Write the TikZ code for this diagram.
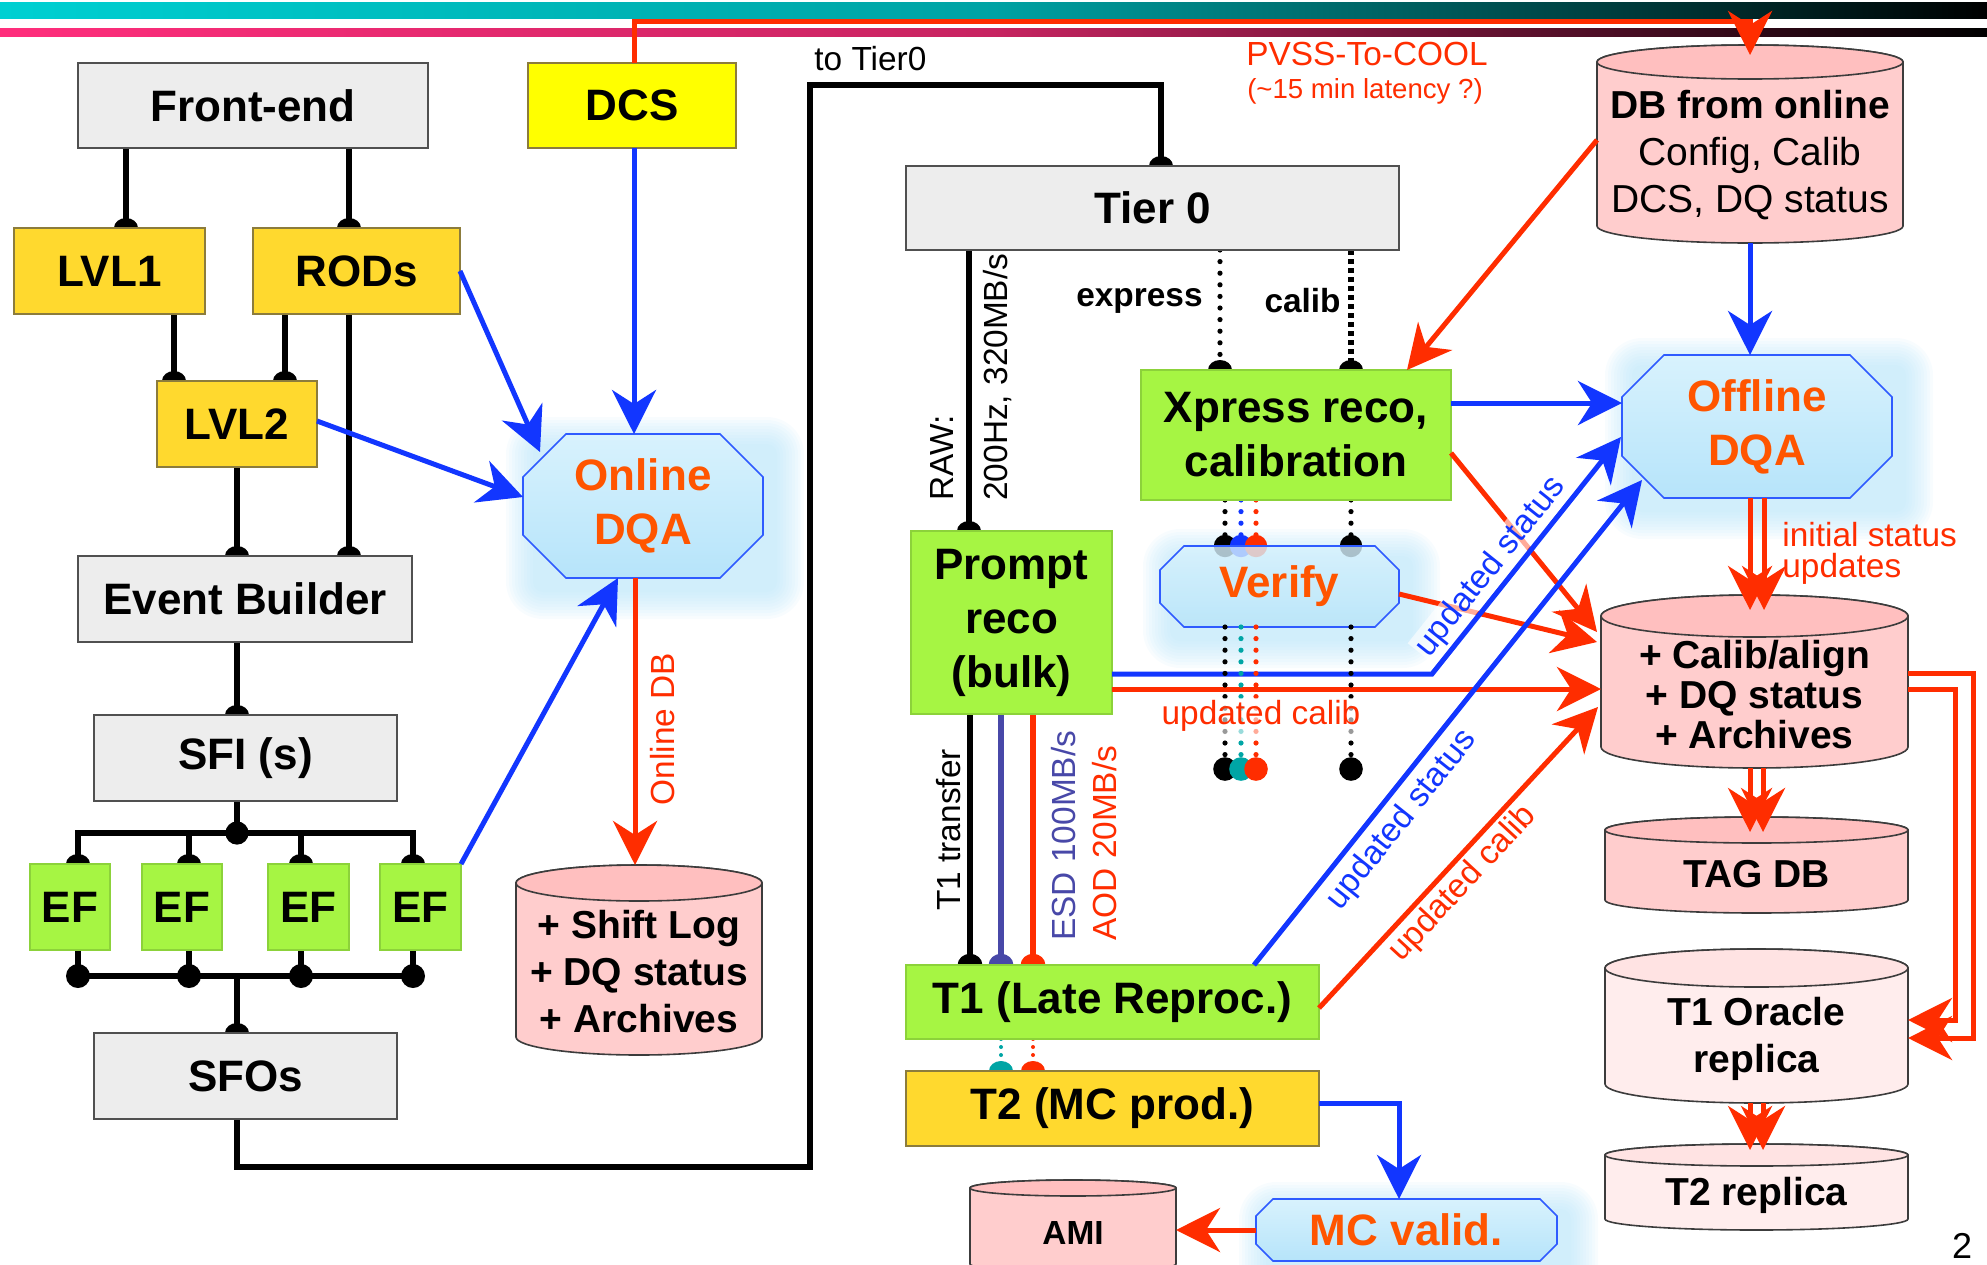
\documentclass[tikz,border=0pt]{standalone}
\usepackage{fontspec}
\setmainfont{Liberation Sans}
\usetikzlibrary{arrows.meta,calc}

\definecolor{greyfill}{HTML}{EDEDED}
\definecolor{greyline}{HTML}{505050}
\definecolor{yelfill}{HTML}{FFD92E}
\definecolor{yelline}{HTML}{8C7C3C}
\definecolor{dcsfill}{HTML}{FFFF00}
\definecolor{grnfill}{HTML}{A6F543}
\definecolor{grnline}{HTML}{8CD23A}
\definecolor{octtop}{HTML}{D8F2FD}
\definecolor{octbot}{HTML}{B6E4FA}
\definecolor{octline}{HTML}{2F5BFF}
\definecolor{glowcol}{HTML}{B4E3F9}
\definecolor{orng}{HTML}{FF5500}
\definecolor{rd}{HTML}{FF2D00}
\definecolor{bl}{HTML}{1236FF}
\definecolor{slate}{HTML}{4848A8}
\definecolor{tl}{HTML}{00A5A5}
\definecolor{cylbody}{HTML}{FFCDCD}
\definecolor{cyltop}{HTML}{FFBFBF}
\definecolor{cyllbody}{HTML}{FFEDED}
\definecolor{cylltop}{HTML}{FFE3E3}
\definecolor{cylline}{HTML}{3C3C3C}
\definecolor{barcyan}{HTML}{00D0D2}
\definecolor{barpink}{HTML}{FF2E7C}

\pgfdeclarelayer{glowl}
\pgfdeclarelayer{linel}
\pgfsetlayers{glowl,linel,main}

\newcommand\bigf{\fontsize{22}{27}\selectfont\bfseries}
\newcommand\cylf{\fontsize{19.5}{23.5}\selectfont\bfseries}
\newcommand\lblf{\fontsize{16.7}{18}\selectfont}
\newcommand\lblbf{\fontsize{16.7}{18}\selectfont\bfseries}

\tikzset{
  boxbase/.style={inner sep=0pt, outer sep=0pt, align=center, line width=0.9pt, font=\bigf},
  greybox/.style={boxbase, draw=greyline, fill=greyfill},
  yelbox/.style={boxbase, draw=yelline, fill=yelfill},
  dcsbox/.style={boxbase, draw=yelline, fill=dcsfill},
  grnbox/.style={boxbase, draw=grnline, fill=grnfill},
  octtxt/.style={inner sep=0pt, outer sep=0pt, align=center, text=orng, font=\bigf},
  cyltxt/.style={inner sep=0pt, align=center, font=\cylf},
  lbl/.style={inner sep=1pt, font=\lblf},
  blk/.style={draw=black, line width=3pt},
  bll/.style={draw=bl, line width=2.5pt},
  rdl/.style={draw=rd, line width=2.5pt},
  arr/.style={-{Stealth[length=22pt,width=22pt,inset=7pt]}},
  dotl/.style={line width=2.6pt, line cap=round, dash pattern=on 0pt off 5.8pt},
  sqdot/.style={line width=3pt, dash pattern=on 2.5pt off 2pt},
}

\newcommand\mybx[7]{\node[#2, minimum width={(#5-#3)*0.5pt}, minimum height={(#6-#4)*0.5pt}] (#1) at ({(#3+#5)/2},{(#4+#6)/2}) {#7};}

\newcommand\myocto[8][]{%
  \begin{pgfonlayer}{glowl}
  \foreach \g in {2,5,8,11,14,17,20,23,26,29}{%
    \pgfmathsetmacro\rr{\g*0.5+4}%
    \fill[glowcol, opacity=0.09, rounded corners=\rr pt] ({#4+12-\g},{#5+12-\g}) rectangle ({#6+12+\g},{#7+12+\g});}
  \end{pgfonlayer}
  \shadedraw[top color=octtop, bottom color=octbot, draw=octline, line width=0.8pt, #1] ({#4+#3},#5) -- ({#6-#3},#5) -- (#6,{#5+#3}) -- (#6,{#7-#3}) -- ({#6-#3},#7) -- ({#4+#3},#7) -- (#4,{#7-#3}) -- (#4,{#5+#3}) -- cycle;
  \node[octtxt, minimum width={(#6-#4)*0.5pt}, minimum height={(#7-#5)*0.5pt}] (#2) at ({(#4+#6)/2},{(#5+#7)/2}) {#8};}

\newcommand\mycyl[9]{%
  \pgfmathsetmacro\cxx{(#2+#4)/2}%
  \pgfmathsetmacro\rxx{(#4-#2)/4}%
  \pgfmathsetmacro\ryy{#6/2}%
  \pgfmathsetmacro\ytt{#3+#6}%
  \pgfmathsetmacro\ybb{#5-#6}%
  \pgfmathsetmacro\ytx{(#3+#6+#5)/2+3}%
  \filldraw[draw=cylline, fill=#7, line width=0.8pt] (#2,\ytt) -- (#2,\ybb) arc[start angle=180, end angle=360, x radius=\rxx pt, y radius=\ryy pt] -- (#4,\ytt) arc[start angle=0, end angle=180, x radius=\rxx pt, y radius=\ryy pt] -- cycle;
  \filldraw[draw=cylline, fill=#8, line width=0.8pt] (\cxx,\ytt) ellipse [x radius=\rxx pt, y radius=\ryy pt];
  \node[inner sep=0pt, outer sep=0pt, minimum width={(#4-#2)*0.5pt}, minimum height={(#5-#3)*0.5pt}] (#1) at (\cxx,{(#3+#5)/2}) {};
  \node[cyltxt] (#1-t) at (\cxx,\ytx) {#9};}

\newcommand\hd[2][black]{\fill[#1] #2 ellipse [x radius=6pt, y radius=5pt];}
\newcommand\vlk[3]{\draw[blk] (#1,0 |- #2.south) -- (#1,0 |- #3.north); \hd{(#1,0 |- #3.north)}}

\begin{document}
\begin{tikzpicture}[x=0.5pt, y=-0.5pt]
\useasboundingbox (0,0) rectangle (1987,1264);

% header bars
\begin{pgfonlayer}{glowl}
\shade[left color=barcyan, right color=black, middle color=barcyan!78!black] (0,2) rectangle (1987,18);
\shade[left color=barpink, right color=black, middle color=barpink!78!black] (0,28) rectangle (1987,36);
\end{pgfonlayer}

% ---------- boxes ----------
\mybx{fe}{greybox}{78}{63}{428}{148}{Front-end}
\mybx{dcs}{dcsbox}{528}{63}{736}{148}{DCS}
\mybx{lvla}{yelbox}{14}{228}{205}{314}{LVL1}
\mybx{rods}{yelbox}{253}{228}{460}{314}{RODs}
\mybx{lvlb}{yelbox}{157}{381}{317}{467}{LVL2}
\mybx{eb}{greybox}{78}{556}{412}{642}{Event Builder}
\mybx{sfi}{greybox}{94}{715}{397}{801}{SFI (s)}
\mybx{efa}{grnbox}{30}{864}{110}{950}{EF}
\mybx{efb}{grnbox}{142}{864}{222}{950}{EF}
\mybx{efc}{grnbox}{268}{864}{349}{950}{EF}
\mybx{efd}{grnbox}{380}{864}{461}{950}{EF}
\mybx{sfo}{greybox}{94}{1033}{397}{1119}{SFOs}
\mybx{tier}{greybox}{906}{166}{1399}{250}{Tier 0}
\mybx{xpr}{grnbox}{1141}{370}{1451}{500}{Xpress reco,\\calibration}
\mybx{prompt}{grnbox}{911}{531}{1112}{714}{Prompt\\reco\\(bulk)}
\mybx{tone}{grnbox}{906}{965}{1319}{1039}{T1 (Late Reproc.)}
\mybx{ttwo}{yelbox}{906}{1071}{1319}{1146}{T2 (MC prod.)}

% ---------- octagons ----------
\myocto{ondqa}{43}{523}{434}{763}{578}{Online\\DQA}
\myocto{offdqa}{42}{1622}{355}{1892}{498}{Offline\\DQA}
\myocto[fill opacity=0.8]{verify}{24}{1160}{546}{1399}{627}{Verify}
\myocto{mcv}{17}{1256}{1199}{1557}{1261}{MC valid.}

% ---------- databases ----------
\mycyl{dbon}{1597}{45}{1903}{243}{17}{cylbody}{cyltop}{DB from online\\\mdseries Config, Calib\\\mdseries DCS, DQ status}
\mycyl{shiftlog}{516}{865}{762}{1055}{18}{cylbody}{cyltop}{+ Shift Log\\+ DQ status\\+ Archives}
\mycyl{calib}{1601}{595}{1908}{768}{21}{cylbody}{cyltop}{+ Calib/align\\[-3.5pt]+ DQ status\\[-3.5pt]+ Archives}
\mycyl{tagdb}{1605}{817}{1908}{913}{13}{cylbody}{cyltop}{TAG DB}
\mycyl{tora}{1605}{949}{1908}{1103}{19}{cyllbody}{cylltop}{T1 Oracle\\replica}
\mycyl{trep}{1605}{1144}{1908}{1230}{11}{cyllbody}{cylltop}{T2 replica}
\mycyl{ami}{970}{1180}{1176}{1272}{8}{cylbody}{cyltop}{\fontsize{16.7}{18}\selectfont AMI}

% ---------- black / dotted links (behind boxes) ----------
\begin{pgfonlayer}{linel}
\vlk{126}{fe}{lvla}
\vlk{349}{fe}{rods}
\vlk{174}{lvla}{lvlb}
\vlk{285}{rods}{lvlb}
\vlk{349}{rods}{eb}
\vlk{237}{lvlb}{eb}
\vlk{237}{eb}{sfi}
\coordinate (bustop) at (237,833);
\coordinate (busbot) at (237,976);
\draw[blk] (237,0 |- sfi.south) -- (bustop);
\fill (bustop) circle (5.8pt);
\draw[blk] (78,0 |- efa.north) |- (bustop) -| (413,0 |- efd.north);
\draw[blk] (78,0 |- efa.south) |- (busbot) -| (413,0 |- efd.south);
\foreach \xx/\nn in {78/efa,189/efb,301/efc,413/efd}{
  \draw[blk] (\xx,0 |- bustop) -- (\xx,0 |- \nn.north);
  \hd{(\xx,0 |- \nn.north)}
  \draw[blk] (\xx,0 |- \nn.south) -- (\xx,0 |- busbot);
  \fill (\xx,0 |- busbot) circle (6pt);
}
\draw[blk] (busbot) -- (237,0 |- sfo.north); \hd{(237,0 |- sfo.north)}
\draw[blk] (237,0 |- sfo.south) -- (237,1167) -- (810,1167) -- (810,85) -- (1161,85) -- (1161,0 |- tier.north);
\hd{(1161,0 |- tier.north)}
\draw[blk] (969,0 |- tier.south) -- (969,0 |- prompt.north); \hd{(969,0 |- prompt.north)}
\draw[dotl] (1220,0 |- tier.south) -- (1220,0 |- xpr.north); \hd{(1220,0 |- xpr.north)}
\draw[sqdot] (1351,0 |- tier.south) -- (1351,0 |- xpr.north); \hd{(1351,0 |- xpr.north)}
% xpress -> verify
\draw[dotl, black] (1225,0 |- xpr.south) -- (1225,0 |- verify.north);
\draw[dotl, bl] (1241,0 |- xpr.south) -- (1241,0 |- verify.north);
\draw[dotl, rd] (1256,0 |- xpr.south) -- (1256,0 |- verify.north);
\draw[dotl, black] (1351,0 |- xpr.south) -- (1351,0 |- verify.north);
\fill[black] (1225,0 |- verify.north) circle (5.6pt);
\fill[bl] (1241,0 |- verify.north) circle (5.6pt);
\fill[rd] (1256,0 |- verify.north) circle (5.6pt);
\fill[black] (1351,0 |- verify.north) circle (5.6pt);
% prompt -> T1
\draw[black, line width=2.8pt] (970,0 |- prompt.south) -- (970,0 |- tone.north);
\draw[slate, line width=2.8pt] (1001,0 |- prompt.south) -- (1001,0 |- tone.north);
\draw[rd, line width=2.8pt] (1033,0 |- prompt.south) -- (1033,0 |- tone.north);
\fill[black] (970,0 |- tone.north) ellipse [x radius=6.2pt, y radius=5.6pt];
\fill[slate] (1001,0 |- tone.north) ellipse [x radius=6.2pt, y radius=5.6pt];
\fill[rd] (1033,0 |- tone.north) ellipse [x radius=6.2pt, y radius=5.6pt];
% T1 -> T2
\draw[dotl, tl, line width=2pt, dash pattern=on 0pt off 4pt] (1001,0 |- tone.south) -- (1001,0 |- ttwo.north); \hd[tl]{(1001,0 |- ttwo.north)}
\draw[dotl, rd, line width=2pt, dash pattern=on 0pt off 4pt] (1033,0 |- tone.south) -- (1033,0 |- ttwo.north); \hd[rd]{(1033,0 |- ttwo.north)}
\end{pgfonlayer}

% ---------- coloured arrows ----------
\draw[rdl, arr] (634,0 |- dcs.north) -- (634,21) -- (1750,21) -- (1750,55);
\draw[bll, arr] (rods.east) -- (540,452);
\draw[bll, arr] (lvlb.east |- 0,421) -- (523,497);
\draw[bll, arr] (efd.north east) -- (618,0 |- ondqa.south);
\draw[bll, arr] (634,0 |- dcs.south) -- (634,0 |- ondqa.north);
\draw[rdl, arr] (635,0 |- ondqa.south) -- (635,0 |- shiftlog.north);

\draw[bll, arr] (1750,0 |- dbon.south) -- (1750,0 |- offdqa.north);
\draw[rdl, arr] (dbon.west |- 0,140) -- (1407,0 |- xpr.north);
\draw[bll, arr] (xpr.east |- 0,403) -- (offdqa.west |- 0,403);
\draw[rdl, arr] (xpr.east |- 0,453) -- (1597,632);
\draw[rdl, arr] (verify.east |- 0,594) -- (1597,642);
\draw[bll, arr] (prompt.east |- 0,674) -- (1432,674) -- (1621,437);
\draw[rdl, arr] (prompt.east |- 0,689) -- (calib.west |- 0,689);
\draw[bll, arr] (1254,0 |- tone.north) -- (1642,480);
\draw[rdl, arr] (tone.east |- 0,1008) -- (1598,707);
\draw[bll, arr] (ttwo.east |- 0,1103) -- (1399,1103) -- (1399,0 |- mcv.north);
\draw[rdl, arr] (mcv.west |- 0,1230) -- (ami.east |- 0,1230);

\foreach \xx in {1750,1764} \draw[rdl, arr] (\xx,0 |- offdqa.south) -- (\xx,610);
\foreach \xx in {1750,1763} \draw[rdl, arr] (\xx,0 |- calib.south) -- (\xx,832);
\foreach \xx in {1750,1763} \draw[rdl, arr] (\xx,0 |- tora.south) -- (\xx,1150);
\draw[rdl, arr] (calib.east |- 0,673) -- (1973,673) -- (1973,1038) -- (tora.east |- 0,1038);
\draw[rdl, arr] (calib.east |- 0,689) -- (1955,689) -- (1955,1020) -- (tora.east |- 0,1020);

% verify -> outputs
\coordinate (vend) at (0,769);
\draw[dotl, black] (1225,0 |- verify.south) -- (1225,0 |- vend);
\draw[dotl, tl] (1241,0 |- verify.south) -- (1241,0 |- vend);
\draw[dotl, rd] (1256,0 |- verify.south) -- (1256,0 |- vend);
\draw[dotl, black] (1351,0 |- verify.south) -- (1351,0 |- vend);
\fill[black] (1225,0 |- vend) circle (5.9pt);
\fill[tl] (1241,0 |- vend) circle (5.9pt);
\fill[rd] (1256,0 |- vend) circle (5.9pt);
\fill[black] (1351,0 |- vend) circle (5.9pt);

% ---------- labels ----------
\node[lbl, anchor=base west] (totier) at (812,70) {to Tier0};
\node[lbl, text=rd] (pvss) at (1367,54) {PVSS-To-COOL};
\node[lbl, text=rd, font=\fontsize{13.8}{15}\selectfont] (lat) at (1365,91) {(\textasciitilde15 min latency ?)};
\node[lbl, font=\lblbf, anchor=east] (lexp) at (1205,301) {express};
\node[lbl, font=\lblbf, anchor=east] (lcal) at (1343,301) {calib};
\node[lbl, rotate=90, anchor=west] (lraw) at (942,503) {RAW:};
\node[lbl, rotate=90, anchor=west] (lrate) at (998,503) {200Hz, 320MB/s};
\node[lbl, rotate=90, text=rd] (lonl) at (663,729) {Online DB};
\node[lbl, rotate=90] (ltr) at (949,830) {T1 transfer};
\node[lbl, rotate=90, anchor=west, text=slate] (lesd) at (1064,943) {ESD 100MB/s};
\node[lbl, rotate=90, anchor=west, text=rd] (laod) at (1105,943) {AOD 20MB/s};
\node[lbl, text=rd, fill=white, fill opacity=0.6, text opacity=1] (lupc) at (1261,716) {updated calib};
\node[lbl, text=bl, rotate=51.4, fill=white, fill opacity=0.6, text opacity=1] (lus1) at (1491,567) {updated status};
\node[lbl, text=bl, rotate=51.4] (lus2) at (1402,820) {updated status};
\node[lbl, text=rd, rotate=47.2] (luc2) at (1463,884) {updated calib};
\node[lbl, text=rd, align=left, anchor=west, font=\fontsize{16.7}{15.5}\selectfont] (linit) at (1780,553) {initial status\\updates};
\node[inner sep=0pt, font=\fontsize{18}{20}\selectfont] (pnum) at (1962,1246) {2};
\end{tikzpicture}
\end{document}
